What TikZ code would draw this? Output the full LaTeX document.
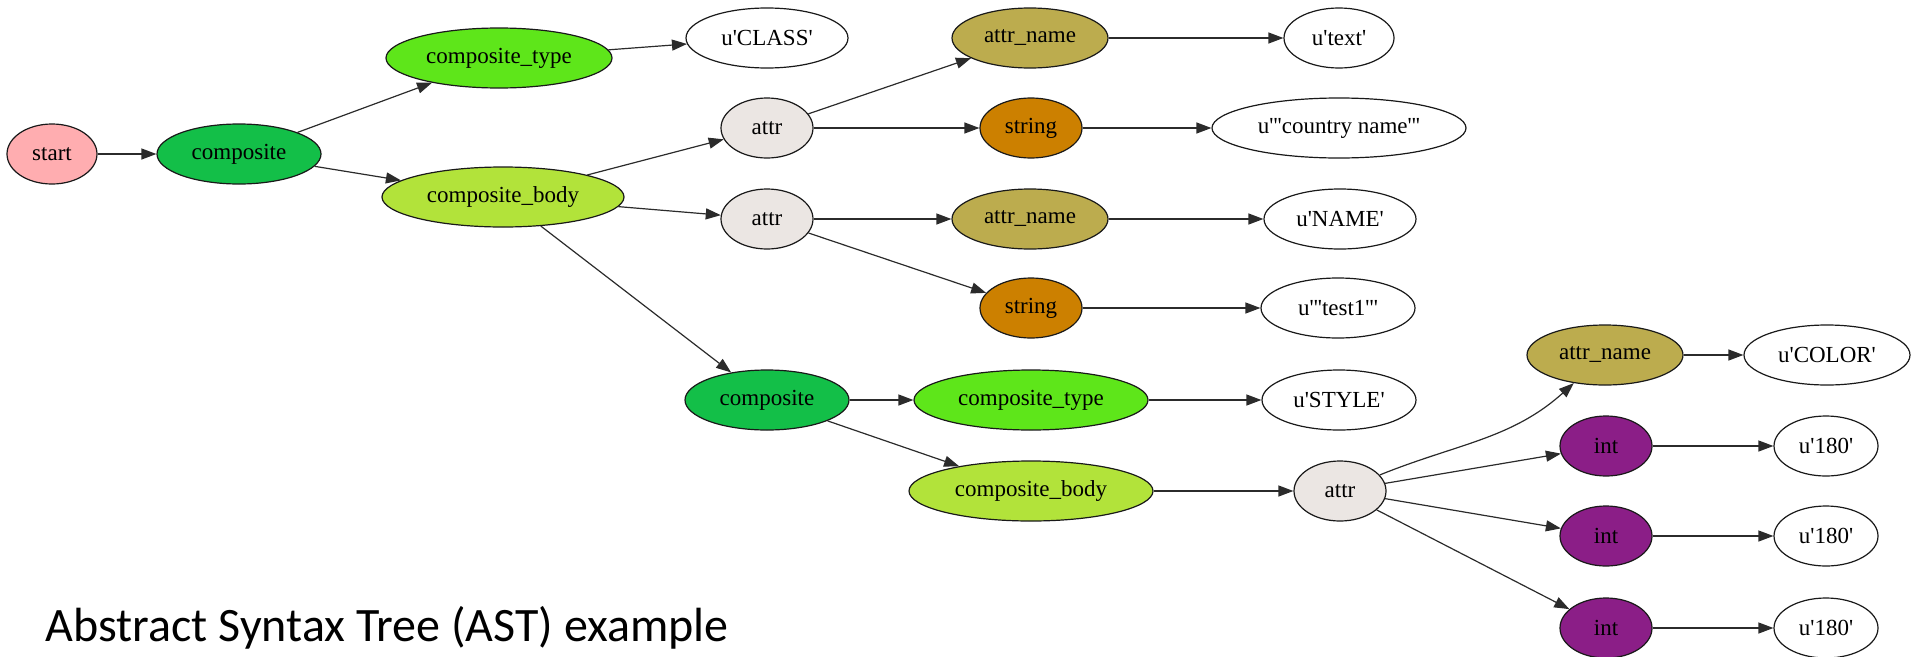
\documentclass[tikz,border=0pt]{standalone}
\usepackage{fontspec}
\newfontfamily\gvfont{Liberation Serif}
\newfontfamily\titlefont{Carlito}
\usetikzlibrary{arrows.meta,shapes.geometric}
\definecolor{startpink}{HTML}{FFADB0}
\definecolor{compgreen}{HTML}{13BF48}
\definecolor{typegreen}{HTML}{5EE61A}
\definecolor{bodygreen}{HTML}{B2E33A}
\definecolor{attrgrey}{HTML}{EBE6E3}
\definecolor{nameolive}{HTML}{BCAC4E}
\definecolor{strorange}{HTML}{CC8000}
\definecolor{intpurple}{HTML}{8B1E87}
\definecolor{edgegrey}{HTML}{2B2B2B}
\tikzset{
  gv/.style={ellipse, draw=black!90, line width=1.2pt, fill=white, minimum height=60pt,
    inner sep=2pt, font=\gvfont\fontsize{23}{27}\selectfont},
  gvedge/.style={draw=edgegrey, line width=1.2pt, -{Triangle[length=15pt,width=11pt]}}
}
\begin{document}
\begin{tikzpicture}[x=1pt, y=-1pt]
\useasboundingbox (0,0) rectangle (1911,656);
\node[gv, fill=startpink, minimum width=90pt] (start) at (52,154) {start};
\node[gv, fill=compgreen, minimum width=164pt] (comp1) at (239,154) {composite};
\node[gv, fill=typegreen, minimum width=226pt] (ctype1) at (499,58) {composite\_type};
\node[gv, fill=bodygreen, minimum width=242pt] (cbody1) at (503,197) {composite\_body};
\node[gv, minimum width=162pt] (class) at (767,38) {u'CLASS'};
\node[gv, fill=attrgrey, minimum width=92pt] (attrA) at (767,128) {attr};
\node[gv, fill=attrgrey, minimum width=92pt] (attrB) at (767,219) {attr};
\node[gv, fill=nameolive, minimum width=156pt] (aname1) at (1030,38) {attr\_name};
\node[gv, fill=strorange, minimum width=102pt] (str1) at (1031,128) {string};
\node[gv, fill=nameolive, minimum width=156pt] (aname2) at (1030,219) {attr\_name};
\node[gv, fill=strorange, minimum width=102pt] (str2) at (1031,308) {string};
\node[gv, minimum width=110pt] (text) at (1339,38) {u'text'};
\node[gv, minimum width=254pt] (country) at (1339,128) {u'''country name'''};
\node[gv, minimum width=152pt] (name) at (1340,219) {u'NAME'};
\node[gv, minimum width=154pt] (test1) at (1338,308) {u'''test1'''};
\node[gv, fill=compgreen, minimum width=164pt] (comp2) at (767,400) {composite};
\node[gv, fill=typegreen, minimum width=234pt] (ctype2) at (1031,400) {composite\_type};
\node[gv, fill=bodygreen, minimum width=244pt] (cbody2) at (1031,491) {composite\_body};
\node[gv, minimum width=154pt] (style) at (1339,400) {u'STYLE'};
\node[gv, fill=attrgrey, minimum width=92pt] (attrC) at (1340,491) {attr};
\node[gv, fill=nameolive, minimum width=156pt] (aname3) at (1605,355) {attr\_name};
\node[gv, fill=intpurple, minimum width=92pt] (int1) at (1606,446) {int};
\node[gv, fill=intpurple, minimum width=92pt] (int2) at (1606,536) {int};
\node[gv, fill=intpurple, minimum width=92pt] (int3) at (1606,628) {int};
\node[gv, minimum width=166pt] (color) at (1827,355) {u'COLOR'};
\node[gv, minimum width=104pt] (val1) at (1826,446) {u'180'};
\node[gv, minimum width=104pt] (val2) at (1826,536) {u'180'};
\node[gv, minimum width=104pt] (val3) at (1826,628) {u'180'};
\node[anchor=base west, font=\titlefont\fontsize{48}{58}\selectfont] (title) at (42,641) {Abstract Syntax Tree (AST) example};
\draw[gvedge] (start) -- (comp1);
\draw[gvedge] (comp1) -- (ctype1);
\draw[gvedge] (comp1) -- (cbody1);
\draw[gvedge] (ctype1) -- (class);
\draw[gvedge] (cbody1) -- (attrA);
\draw[gvedge] (cbody1) -- (attrB);
\draw[gvedge] (cbody1) -- (comp2);
\draw[gvedge] (attrA) -- (aname1);
\draw[gvedge] (attrA) -- (str1);
\draw[gvedge] (aname1) -- (text);
\draw[gvedge] (str1) -- (country);
\draw[gvedge] (attrB) -- (aname2);
\draw[gvedge] (attrB) -- (str2);
\draw[gvedge] (aname2) -- (name);
\draw[gvedge] (str2) -- (test1);
\draw[gvedge] (comp2) -- (ctype2);
\draw[gvedge] (comp2) -- (cbody2);
\draw[gvedge] (ctype2) -- (style);
\draw[gvedge] (cbody2) -- (attrC);
\draw[gvedge] (attrC) to[out=22, in=222] (aname3);
\draw[gvedge] (attrC) -- (int1);
\draw[gvedge] (attrC) -- (int2);
\draw[gvedge] (attrC) -- (int3);
\draw[gvedge] (aname3) -- (color);
\draw[gvedge] (int1) -- (val1);
\draw[gvedge] (int2) -- (val2);
\draw[gvedge] (int3) -- (val3);
\end{tikzpicture}
\end{document}
